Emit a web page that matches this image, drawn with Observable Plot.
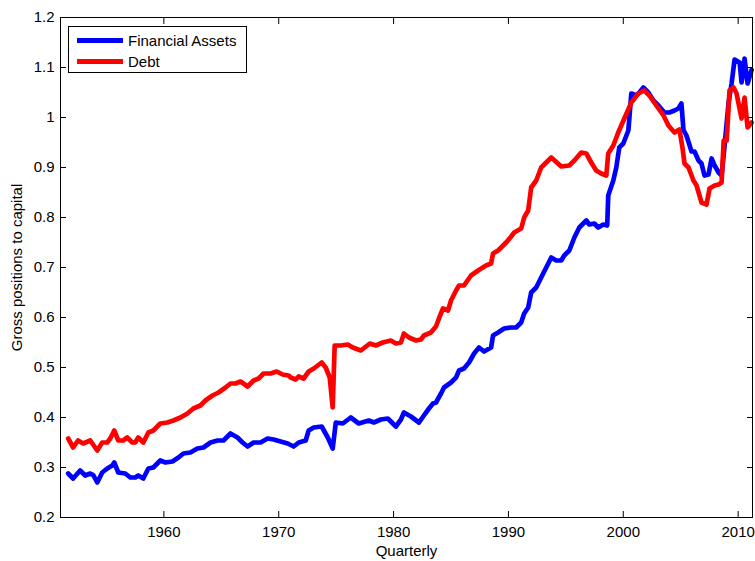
<!DOCTYPE html>
<html><head><meta charset="utf-8">
<script src="https://cdn.jsdelivr.net/npm/d3@7"></script>
<script src="https://cdn.jsdelivr.net/npm/@observablehq/plot@0.6"></script>
<style>
body{margin:0;background:#fff;}
#wrap{position:relative;width:755px;height:561px;font-family:"Liberation Sans",Arial,sans-serif;}
#legend{position:absolute;left:68px;top:26px;width:179px;height:47px;border:1px solid #000;background:#fff;box-sizing:border-box;}
.row{position:absolute;left:0;height:20px;display:flex;align-items:center;font-size:15px;color:#000;white-space:nowrap;}
.sw{display:inline-block;width:46px;height:5px;margin-left:8px;margin-right:5px;}
</style></head><body><div id="wrap"></div>
<script>
const seriesNames = ["Financial Assets", "Debt"];
const seriesColors = ["#0000ff", "#ff0000"];
const xTicks = [1960, 1970, 1980, 1990, 2000, 2010];
const yTicks = [0.2, 0.3, 0.4, 0.5, 0.6, 0.7, 0.8, 0.9, 1, 1.1, 1.2];

const faYears = [1951.67,1952.10,1952.71,1953.15,1953.59,1953.85,1954.20,1954.63,1955.07,1955.51,1955.68,1956.03,1956.64,1957.08,1957.51,1957.77,1958.21,1958.65,1959.08,1959.69,1960.13,1960.74,1961.27,1961.70,1962.31,1962.92,1963.45,1964.06,1964.67,1965.19,1965.80,1966.41,1966.85,1967.29,1967.81,1968.42,1969.03,1969.55,1970.17,1970.78,1971.30,1971.74,1972.35,1972.61,1973.05,1973.74,1974.27,1974.70,1974.97,1975.58,1976.27,1976.97,1977.84,1978.28,1978.89,1979.50,1980.20,1980.64,1980.90,1981.51,1982.21,1982.64,1983.08,1983.43,1983.69,1984.13,1984.39,1985.00,1985.44,1985.70,1986.13,1986.57,1987.01,1987.44,1987.88,1988.49,1988.66,1989.10,1989.62,1990.24,1990.67,1991.11,1991.37,1991.72,1991.98,1992.42,1992.85,1993.29,1993.73,1994.16,1994.60,1994.86,1995.30,1995.74,1996.17,1996.78,1997.04,1997.48,1997.82,1998.26,1998.60,1998.69,1999.13,1999.39,1999.65,2000.00,2000.44,2000.70,2001.13,2001.40,2001.75,2002.18,2002.62,2003.06,2003.58,2004.01,2004.46,2004.80,2005.06,2005.24,2005.50,2005.94,2006.20,2006.55,2006.81,2007.07,2007.42,2007.69,2007.95,2008.30,2008.56,2008.82,2009.17,2009.43,2009.69,2010.13,2010.30,2010.56,2010.82,2011.17];
const faValues = [0.288,0.278,0.294,0.284,0.288,0.285,0.270,0.290,0.298,0.304,0.310,0.290,0.288,0.280,0.280,0.284,0.278,0.298,0.300,0.314,0.310,0.312,0.320,0.328,0.330,0.338,0.340,0.350,0.354,0.354,0.368,0.360,0.350,0.342,0.350,0.350,0.358,0.356,0.352,0.348,0.342,0.350,0.354,0.374,0.380,0.382,0.360,0.338,0.390,0.388,0.400,0.388,0.394,0.390,0.396,0.398,0.382,0.396,0.410,0.402,0.390,0.404,0.418,0.428,0.430,0.448,0.460,0.470,0.480,0.494,0.498,0.510,0.528,0.540,0.532,0.540,0.564,0.570,0.578,0.580,0.580,0.590,0.608,0.620,0.650,0.660,0.680,0.700,0.720,0.714,0.714,0.724,0.734,0.760,0.780,0.794,0.786,0.788,0.780,0.786,0.784,0.844,0.874,0.900,0.940,0.948,0.974,1.048,1.044,1.050,1.060,1.050,1.034,1.024,1.010,1.010,1.014,1.018,1.028,0.975,0.964,0.932,0.932,0.914,0.908,0.884,0.886,0.918,0.904,0.890,0.884,0.944,1.030,1.068,1.116,1.110,1.070,1.118,1.068,1.095];

const debtYears = [1951.67,1952.10,1952.53,1952.97,1953.59,1954.20,1954.63,1955.07,1955.33,1955.68,1956.03,1956.46,1956.81,1957.25,1957.51,1957.77,1958.21,1958.65,1959.08,1959.69,1960.31,1960.83,1961.44,1962.05,1962.57,1963.18,1963.62,1964.23,1964.76,1965.37,1965.80,1966.24,1966.68,1967.29,1967.81,1968.25,1968.68,1969.29,1969.82,1970.34,1970.86,1971.04,1971.47,1971.74,1972.17,1972.61,1973.05,1973.74,1974.09,1974.44,1974.70,1974.87,1975.40,1976.01,1976.45,1977.15,1977.93,1978.45,1979.06,1979.76,1980.20,1980.64,1980.90,1981.34,1981.95,1982.38,1982.64,1983.25,1983.69,1983.95,1984.30,1984.74,1985.00,1985.44,1985.70,1986.13,1986.74,1987.36,1988.05,1988.49,1988.66,1989.10,1989.80,1990.24,1990.50,1991.11,1991.37,1991.72,1991.98,1992.42,1992.85,1993.73,1994.60,1995.30,1995.74,1996.34,1996.78,1997.21,1997.64,1998.08,1998.52,1998.69,1999.13,1999.56,2000.09,2000.70,2001.31,2001.83,2002.27,2002.88,2003.50,2003.93,2004.46,2004.89,2005.15,2005.33,2005.68,2006.11,2006.38,2006.81,2007.25,2007.51,2007.95,2008.30,2008.56,2008.74,2009.00,2009.25,2009.60,2009.86,2010.30,2010.56,2010.82,2011.17];
const debtValues = [0.358,0.340,0.354,0.348,0.354,0.334,0.350,0.350,0.358,0.374,0.354,0.354,0.360,0.350,0.350,0.360,0.350,0.370,0.374,0.388,0.390,0.394,0.400,0.408,0.418,0.424,0.434,0.444,0.450,0.460,0.468,0.468,0.472,0.462,0.474,0.478,0.488,0.488,0.492,0.486,0.484,0.480,0.476,0.482,0.478,0.492,0.498,0.510,0.500,0.480,0.420,0.544,0.544,0.546,0.540,0.534,0.548,0.544,0.550,0.554,0.548,0.550,0.568,0.560,0.554,0.556,0.564,0.570,0.582,0.598,0.618,0.614,0.634,0.654,0.664,0.664,0.684,0.694,0.704,0.708,0.728,0.734,0.750,0.762,0.770,0.778,0.800,0.814,0.860,0.874,0.900,0.920,0.902,0.904,0.914,0.930,0.928,0.910,0.894,0.888,0.884,0.928,0.944,0.970,0.998,1.030,1.048,1.054,1.044,1.024,1.004,0.984,0.970,0.976,0.940,0.908,0.900,0.874,0.864,0.830,0.826,0.858,0.864,0.866,0.870,0.954,0.954,1.054,1.060,1.048,0.998,1.040,0.980,0.990];

const fa = faYears.map((y, i) => ({year: y, value: faValues[i]}));
const debt = debtYears.map((y, i) => ({year: y, value: debtValues[i]}));

const fontFamily = '"Liberation Sans", Arial, sans-serif';
const chart = Plot.plot({
  width: 755,
  height: 561,
  marginLeft: 60,
  marginRight: 3,
  marginTop: 17,
  marginBottom: 44,
  style: {fontFamily, fontSize: "15px", background: "#fff", color: "#000", overflow: "visible"},
  x: {domain: [1951, 2011.25]},
  y: {domain: [0.2, 1.2]},
  marks: [
    Plot.line(fa, {x: "year", y: "value", stroke: seriesColors[0], strokeWidth: 4.7, strokeLinejoin: "round", strokeLinecap: "round"}),
    Plot.line(debt, {x: "year", y: "value", stroke: seriesColors[1], strokeWidth: 4.7, strokeLinejoin: "round", strokeLinecap: "round"}),
    Plot.frame({stroke: "#000", strokeWidth: 1}),
    Plot.axisX({anchor: "bottom", ticks: xTicks, tickSize: -6, tickPadding: 15, tickFormat: d => String(d), fontSize: 15, label: "Quarterly", labelAnchor: "center", labelArrow: "none", labelOffset: 38}),
    Plot.axisX({anchor: "top", ticks: xTicks, tickSize: -6, tickFormat: () => "", label: null}),
    Plot.axisY({anchor: "left", ticks: yTicks, tickSize: -6, tickPadding: 12, tickFormat: d => String(d), fontSize: 15, label: "Gross positions to capital", labelAnchor: "center", labelArrow: "none", labelOffset: 49}),
    Plot.axisY({anchor: "right", ticks: yTicks, tickSize: -6, tickFormat: () => "", label: null})
  ]
});
const wrap = document.getElementById("wrap");
wrap.appendChild(chart);

const legend = document.createElement("div");
legend.id = "legend";
seriesNames.forEach((name, i) => {
  const row = document.createElement("div");
  row.className = "row";
  row.style.top = (3 + i * 21) + "px";
  const sw = document.createElement("span");
  sw.className = "sw";
  sw.style.background = seriesColors[i];
  row.appendChild(sw);
  const t = document.createElement("span");
  t.textContent = name;
  row.appendChild(t);
  legend.appendChild(row);
});
wrap.appendChild(legend);
</script></body></html>
